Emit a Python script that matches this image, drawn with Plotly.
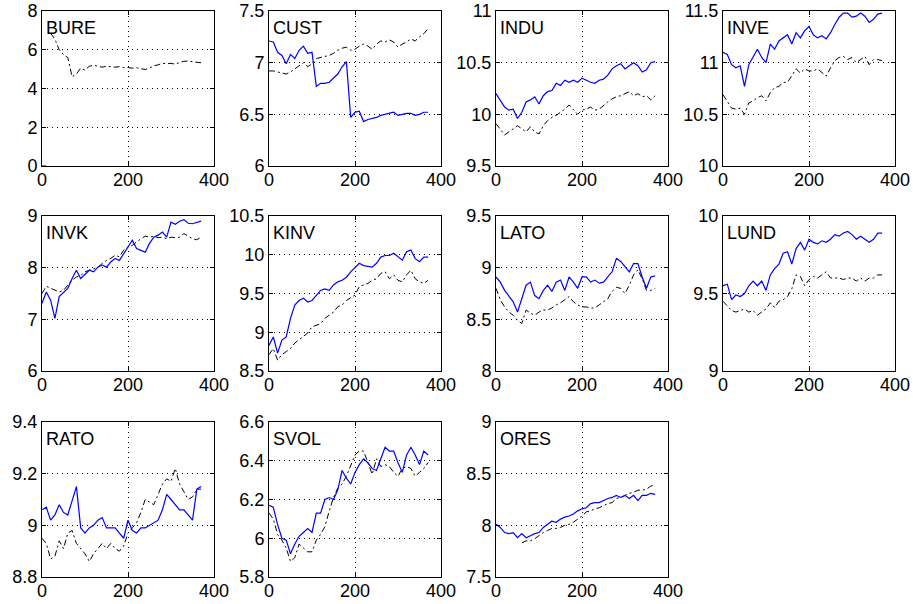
import plotly.graph_objects as go

# Trading day index (sampled every 10 days)
days = list(range(0, 371, 10))

# ---- series: blue = model, black dash-dot = benchmark ----
bure_blue = [0.0, 0.0] + [None] * 36
bure_black = [None, None, 6.85, 6.55, 6.0, 5.75, 5.6, 4.6, 4.75, 5.05, 4.95, 5.15, 5.2, 5.15,
              5.1, 5.15, 5.12, 5.1, 5.13, 5.08, 5.08, 5.05, 5.07, 5.02, 4.98, 5.05, 5.17, 5.22,
              5.3, 5.28, 5.3, 5.25, 5.35, 5.4, 5.42, 5.38, 5.35, 5.33]

cust_blue = [7.21, 7.20, 7.10, 7.07, 6.99, 7.08, 7.04, 7.12, 7.16, 7.09, 7.10, 6.77, 6.80, 6.80,
             6.81, 6.85, 6.89, 6.96, 7.01, 6.47, 6.52, 6.53, 6.43, 6.45, 6.46, 6.47, 6.49, 6.50,
             6.51, 6.52, 6.49, 6.50, 6.51, 6.51, 6.49, 6.50, 6.52, 6.52]
cust_black = [6.92, 6.92, 6.91, 6.90, 6.89, 6.91, 6.94, 6.97, 7.00, 6.96, 6.99, 7.04, 7.05, 7.06,
              7.07, 7.09, 7.12, 7.14, 7.15, 7.12, 7.13, 7.16, 7.18, 7.16, 7.13, 7.18, 7.21, 7.20,
              7.22, 7.20, 7.15, 7.18, 7.20, 7.23, 7.21, 7.25, 7.28, 7.33]

indu_blue = [10.20, 10.14, 10.07, 10.04, 10.05, 9.96, 10.02, 10.12, 10.14, 10.17, 10.10, 10.18,
             10.22, 10.23, 10.30, 10.28, 10.33, 10.31, 10.33, 10.31, 10.35, 10.33, 10.31, 10.30,
             10.33, 10.34, 10.38, 10.44, 10.47, 10.49, 10.44, 10.47, 10.50, 10.47, 10.41, 10.43,
             10.50, 10.51]
indu_black = [9.91, 9.86, 9.80, 9.83, 9.86, 9.89, 9.86, 9.83, 9.88, 9.83, 9.81, 9.89, 9.94, 9.97,
              9.99, 10.02, 10.05, 10.09, 10.05, 10.00, 10.04, 10.05, 10.07, 10.04, 10.05, 10.09,
              10.12, 10.15, 10.17, 10.18, 10.20, 10.22, 10.18, 10.20, 10.17, 10.18, 10.14, 10.18]

inve_blue = [11.10, 11.08, 10.98, 10.95, 10.97, 10.77, 10.98, 11.05, 11.13, 11.05, 11.00, 11.18,
             11.13, 11.21, 11.24, 11.27, 11.18, 11.29, 11.24, 11.31, 11.35, 11.27, 11.24, 11.26,
             11.23, 11.29, 11.37, 11.44, 11.48, 11.48, 11.44, 11.45, 11.48, 11.45, 11.39, 11.42,
             11.47, 11.48]
inve_black = [10.69, 10.63, 10.56, 10.55, 10.56, 10.50, 10.61, 10.63, 10.66, 10.68, 10.63, 10.71,
              10.76, 10.77, 10.81, 10.81, 10.87, 10.94, 10.90, 10.94, 10.92, 10.92, 10.94, 10.90,
              10.87, 10.95, 11.02, 11.05, 11.06, 11.03, 11.05, 11.00, 11.03, 11.06, 10.98, 11.03,
              11.03, 11.02]

invk_blue = [7.31, 7.53, 7.37, 7.02, 7.44, 7.53, 7.60, 7.79, 7.95, 7.79, 7.88, 7.95, 7.92, 8.01,
             8.05, 8.01, 8.11, 8.18, 8.14, 8.27, 8.40, 8.53, 8.37, 8.34, 8.30, 8.47, 8.59, 8.63,
             8.69, 8.59, 8.88, 8.84, 8.90, 8.93, 8.86, 8.85, 8.88, 8.90]
invk_black = [7.50, 7.64, 7.60, 7.56, 7.53, 7.56, 7.66, 7.76, 7.82, 7.85, 7.92, 7.95, 7.98, 8.01,
              8.08, 8.14, 8.18, 8.24, 8.21, 8.34, 8.40, 8.43, 8.50, 8.56, 8.61, 8.59, 8.61, 8.58,
              8.59, 8.56, 8.59, 8.58, 8.59, 8.66, 8.61, 8.56, 8.54, 8.59]

kinv_blue = [8.83, 8.94, 8.73, 8.90, 8.94, 9.18, 9.35, 9.41, 9.44, 9.39, 9.41, 9.48, 9.54, 9.56,
             9.54, 9.61, 9.65, 9.67, 9.71, 9.78, 9.84, 9.89, 9.86, 9.85, 9.84, 9.89, 9.97, 9.99,
             9.99, 10.02, 9.98, 9.93, 10.04, 10.06, 9.95, 9.91, 9.97, 9.97]
kinv_black = [8.71, 8.79, 8.64, 8.71, 8.75, 8.79, 8.86, 8.90, 8.94, 8.99, 9.07, 9.09, 9.11, 9.18,
              9.22, 9.26, 9.33, 9.35, 9.41, 9.44, 9.48, 9.59, 9.61, 9.63, 9.67, 9.69, 9.76, 9.78,
              9.69, 9.74, 9.67, 9.65, 9.74, 9.80, 9.69, 9.65, 9.63, 9.67]

lato_blue = [8.91, 8.86, 8.78, 8.72, 8.67, 8.57, 8.69, 8.83, 8.86, 8.73, 8.70, 8.78, 8.83, 8.77,
             8.86, 8.88, 8.78, 8.91, 8.86, 8.80, 8.91, 8.91, 8.86, 8.88, 8.85, 8.86, 8.91, 8.96,
             9.09, 9.06, 9.01, 8.96, 9.04, 9.04, 8.91, 8.80, 8.91, 8.92]
lato_black = [8.80, 8.69, 8.62, 8.57, 8.54, 8.49, 8.46, 8.59, 8.56, 8.54, 8.57, 8.59, 8.59, 8.61,
              8.64, 8.66, 8.69, 8.72, 8.67, 8.64, 8.62, 8.62, 8.61, 8.61, 8.64, 8.67, 8.70, 8.77,
              8.81, 8.80, 8.75, 8.83, 8.93, 8.98, 8.89, 8.78, 8.78, 8.80]

lund_blue = [9.55, 9.56, 9.46, 9.49, 9.48, 9.50, 9.55, 9.58, 9.55, 9.58, 9.52, 9.62, 9.66, 9.69,
             9.76, 9.77, 9.69, 9.79, 9.83, 9.78, 9.85, 9.83, 9.82, 9.84, 9.83, 9.85, 9.88, 9.87,
             9.89, 9.90, 9.88, 9.85, 9.87, 9.85, 9.83, 9.85, 9.89, 9.89]
lund_black = [9.45, 9.42, 9.39, 9.38, 9.39, 9.40, 9.38, 9.39, 9.36, 9.38, 9.40, 9.44, 9.41, 9.45,
              9.46, 9.48, 9.53, 9.62, 9.61, 9.55, 9.59, 9.61, 9.60, 9.62, 9.64, 9.60, 9.60, 9.60,
              9.59, 9.60, 9.60, 9.58, 9.60, 9.58, 9.60, 9.60, 9.62, 9.62]

rato_blue = [9.06, 9.07, 9.02, 9.04, 9.08, 9.05, 9.04, 9.10, 9.15, 8.99, 8.97, 8.99, 9.00, 9.02,
             9.03, 8.99, 8.99, 8.99, 8.97, 8.95, 9.02, 8.98, 8.97, 8.99, 8.99, 9.00, 9.01, 9.02,
             9.06, 9.12, 9.10, 9.08, 9.06, 9.06, 9.04, 9.02, 9.14, 9.15]
rato_black = [8.95, 8.93, 8.87, 8.88, 8.94, 8.91, 8.97, 8.98, 8.93, 8.91, 8.89, 8.86, 8.89, 8.91,
              8.93, 8.91, 8.93, 8.91, 8.90, 8.92, 8.97, 8.99, 9.01, 9.05, 9.10, 9.09, 9.08, 9.12,
              9.16, 9.18, 9.17, 9.22, 9.16, 9.13, 9.10, 9.11, 9.14, 9.14]

svol_blue = [6.17, 6.16, 6.07, 6.00, 5.99, 5.92, 5.97, 6.01, 6.03, 6.05, 6.03, 6.13, 6.13, 6.20,
             6.21, 6.20, 6.25, 6.35, 6.31, 6.28, 6.34, 6.38, 6.41, 6.39, 6.36, 6.35, 6.41, 6.47,
             6.45, 6.45, 6.39, 6.34, 6.43, 6.47, 6.43, 6.38, 6.45, 6.43]
svol_black = [6.13, 6.10, 6.02, 5.99, 5.95, 5.88, 5.90, 5.97, 5.95, 5.93, 5.93, 5.99, 6.02, 6.06,
              6.14, 6.21, 6.26, 6.28, 6.32, 6.38, 6.43, 6.45, 6.45, 6.39, 6.33, 6.41, 6.37, 6.38,
              6.37, 6.34, 6.32, 6.36, 6.37, 6.36, 6.32, 6.34, 6.36, 6.39]

ores_blue = [8.01, 7.98, 7.93, 7.92, 7.93, 7.88, 7.92, 7.88, 7.90, 7.92, 7.93, 7.98, 8.01, 8.04,
             8.03, 8.06, 8.08, 8.09, 8.11, 8.14, 8.16, 8.17, 8.21, 8.22, 8.22, 8.24, 8.26, 8.27,
             8.29, 8.27, 8.29, 8.26, 8.29, 8.24, 8.29, 8.29, 8.31, 8.30]
ores_black = [None] * 6 + [7.83, 7.85, 7.85, 7.87, 7.90, 7.93, 7.95, 7.97, 7.97, 7.98, 8.00, 8.01,
                           8.03, 8.06, 8.09, 8.13, 8.14, 8.16, 8.17, 8.19, 8.21, 8.22, 8.26, 8.27,
                           8.29, 8.31, 8.32, 8.34, 8.34, 8.35, 8.38, 8.39]

x_ticks = [0, 200, 400]

panels = [
    ("BURE", bure_blue, bure_black, [0, 2, 4, 6, 8]),
    ("CUST", cust_blue, cust_black, [6, 6.5, 7, 7.5]),
    ("INDU", indu_blue, indu_black, [9.5, 10, 10.5, 11]),
    ("INVE", inve_blue, inve_black, [10, 10.5, 11, 11.5]),
    ("INVK", invk_blue, invk_black, [6, 7, 8, 9]),
    ("KINV", kinv_blue, kinv_black, [8.5, 9, 9.5, 10, 10.5]),
    ("LATO", lato_blue, lato_black, [8, 8.5, 9, 9.5]),
    ("LUND", lund_blue, lund_black, [9, 9.5, 10]),
    ("RATO", rato_blue, rato_black, [8.8, 9, 9.2, 9.4]),
    ("SVOL", svol_blue, svol_black, [5.8, 6, 6.2, 6.4, 6.6]),
    ("ORES", ores_blue, ores_black, [7.5, 8, 8.5, 9]),
]

W, H = 913, 604
col_left = [42, 269, 496, 723]
row_top = [11, 216, 422]
pw, ph = 172, 155

FONT = "Liberation Sans, Arial, sans-serif"
FS = 18
fig = go.Figure()
layout = dict(
    template="none",
    width=W, height=H, autosize=False,
    margin=dict(l=0, r=0, t=0, b=0, pad=0),
    paper_bgcolor="white", plot_bgcolor="white",
    showlegend=False,
    font=dict(family=FONT, size=FS, color="black"),
)
annotations = []

axis_common = dict(
    automargin=False,
    showline=True, linecolor="black", linewidth=1, mirror="ticks",
    ticks="inside", ticklen=4, tickcolor="black", tickwidth=1,
    showgrid=True, gridcolor="black", gridwidth=1, griddash="1px,4px",
    zeroline=False, tickfont=dict(family=FONT, size=FS, color="black"),
)

for i, (name, blue, black, yticks) in enumerate(panels):
    r, c = divmod(i, 4)
    k = "" if i == 0 else str(i + 1)
    left, top = col_left[c], row_top[r]
    layout["xaxis" + k] = dict(
        axis_common, domain=[left / W, (left + pw) / W], range=[0, 400],
        tickvals=x_ticks, anchor="y" + k, ticklabelstandoff=-3,
    )
    layout["yaxis" + k] = dict(
        axis_common, domain=[1 - (top + ph) / H, 1 - top / H],
        range=[yticks[0], yticks[-1]], tickvals=yticks, anchor="x" + k,
    )
    fig.add_trace(go.Scatter(
        x=days, y=black, mode="lines", xaxis="x" + k, yaxis="y" + k,
        line=dict(color="black", width=1, dash="6px,3px,2px,3px"),
        connectgaps=False,
    ))
    fig.add_trace(go.Scatter(
        x=days, y=blue, mode="lines", xaxis="x" + k, yaxis="y" + k,
        line=dict(color="#0000ff", width=1.2),
        connectgaps=False,
    ))
    annotations.append(dict(
        text=name, xref=f"x{k} domain", yref=f"y{k} domain",
        x=0.012, y=0.89, xanchor="left", yanchor="middle", showarrow=False,
        font=dict(family=FONT, size=FS, color="black"),
    ))

layout["annotations"] = annotations
fig.update_layout(**layout)
fig.write_html("out.html")
